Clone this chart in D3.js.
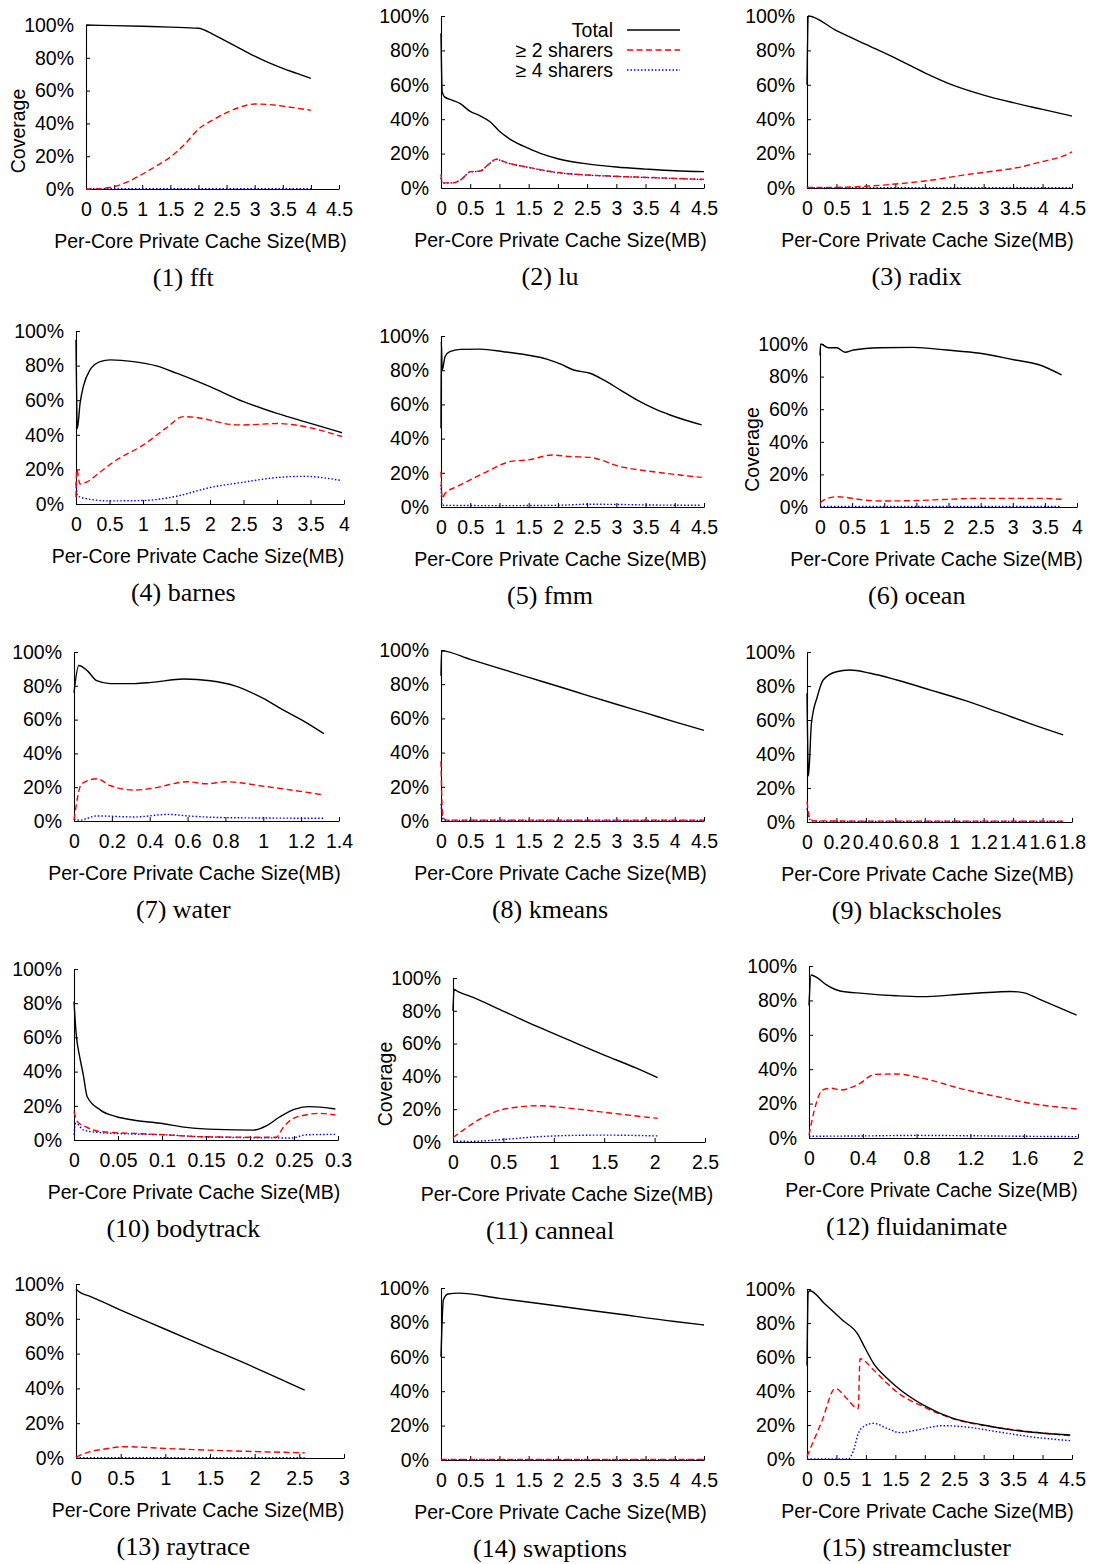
<!DOCTYPE html>
<html><head><meta charset="utf-8">
<script src="https://cdn.jsdelivr.net/npm/d3@7"></script>
<style>
body{margin:0;background:#fff}
svg text{font-family:"Liberation Sans",Arial,Helvetica,sans-serif}
</style>
</head><body>
<svg id="c" width="1100" height="1564"></svg>
<script>
// ---------------- DATA ----------------
const seriesNames = ["Total", "\u2265 2 sharers", "\u2265 4 sharers"];
const panelNames = ["fft","lu","radix","barnes","fmm","ocean","water","kmeans","blackscholes","bodytrack","canneal","fluidanimate","raytrace","swaptions","streamcluster"];
const yTicks = [0,20,40,60,80,100];
const xTicks45 = [0,0.5,1,1.5,2,2.5,3,3.5,4,4.5];
const xTicks4 = [0,0.5,1,1.5,2,2.5,3,3.5,4];
const xTicks14 = [0,0.2,0.4,0.6,0.8,1,1.2,1.4];
const xTicks18 = [0,0.2,0.4,0.6,0.8,1,1.2,1.4,1.6,1.8];
const xTicks03 = [0,0.05,0.1,0.15,0.2,0.25,0.3];
const xTicks25 = [0,0.5,1,1.5,2,2.5];
const xTicks2 = [0,0.4,0.8,1.2,1.6,2];
const xTicks3 = [0,0.5,1,1.5,2,2.5,3];

const fftTotal = [[0,100],[0.5,99.6],[1,99.2],[1.5,98.7],[2,98],[2.25,94.5],[2.5,90],[2.75,85.5],[3,81],[3.25,77],[3.5,73.5],[3.75,70.5],[4,67.5]];
const fftShare2 = [[0,0],[0.25,0.2],[0.5,1.5],[0.75,4.5],[1,9],[1.25,14],[1.5,19.5],[1.75,27],[2,36.5],[2.25,42],[2.5,46.5],[2.75,50],[3,51.8],[3.25,51.5],[3.5,50.5],[3.75,49.3],[4,48]];
const fftShare4 = [[0,0.2],[1,0.2],[2,0.2],[3,0.2],[4,0.2]];

const luTotal = [[0,90],[0.02,56],[0.06,53],[0.2,51],[0.33,49],[0.5,44.5],[0.67,42],[0.84,38.5],[1.0,33],[1.2,28],[1.5,23],[1.75,19.5],[2,17],[2.5,14],[3,12.2],[3.5,11],[4,10],[4.5,9.5]];
const luShare2 = [[0,8],[0.02,3],[0.2,3],[0.35,5],[0.5,9.5],[0.67,9.9],[0.8,13.4],[0.95,16.8],[1.1,15],[1.5,12],[2,9],[2.5,7.6],[3,6.8],[3.5,6.2],[4,5.6],[4.5,5]];
const luShare4 = [[0,6],[0.02,2.8],[0.2,3],[0.35,5],[0.5,9.3],[0.67,9.8],[0.8,13.2],[0.95,16.6],[1.1,14.9],[1.5,11.9],[2,8.9],[2.5,7.5],[3,6.7],[3.5,6.1],[4,5.5],[4.5,4.9]];

const radixTotal = [[0,60],[0.02,100],[0.5,91.5],[1,83.5],[1.5,75.5],[2,67],[2.5,59.5],[3,54],[3.5,49.6],[4,45.7],[4.5,41.8]];
const radixShare2 = [[0,0.3],[0.5,0.4],[1,1],[1.5,2.3],[2.1,4.5],[2.65,7.5],[3.2,10],[3.6,12],[3.95,15],[4.4,19.3],[4.5,21]];
const radixShare4 = [[0,1],[0.02,0.2],[1,0.2],[2,0.2],[3,0.2],[4,0.2],[4.5,0.2]];

const barnesTotal = [[0,95],[0.02,43.5],[0.06,58],[0.11,68],[0.21,77.5],[0.36,82.3],[0.51,83.3],[0.86,82.3],[1.2,79.8],[1.5,75.6],[2,67.8],[2.5,59.2],[3,52.4],[3.5,46.6],[3.97,41.2]];
const barnesShare2 = [[0,4],[0.01,20],[0.06,11.5],[0.15,12.5],[0.36,18.5],[0.61,25.6],[1,34],[1.35,44],[1.6,50.5],[1.8,50],[2,48.5],[2.3,46],[2.5,45.7],[3,46.5],[3.3,45.5],[3.5,44],[3.97,39]];
const barnesShare4 = [[0,12],[0.02,5],[0.1,3.5],[0.5,1.8],[1,2],[1.5,4.5],[2,9.5],[2.5,12.6],[3,15.3],[3.4,16],[3.97,13.5]];

const fmmTotal = [[0,46],[0.005,97],[0.02,80],[0.07,88],[0.15,90.8],[0.33,92.2],[0.67,92.3],[1.07,90.8],[1.47,88.9],[1.81,86.5],[2.05,83.5],[2.27,80.1],[2.55,78.2],[2.78,74.3],[3.07,68.4],[3.35,62.6],[3.65,57.5],[3.92,53.8],[4.46,48]];
const fmmShare2 = [[0,20.6],[0.02,5],[0.07,8],[0.27,11.9],[0.5,15.8],[0.78,20.6],[1.18,26.5],[1.52,27.7],[1.9,30.4],[2.2,29.5],[2.55,29],[3.07,23.6],[3.64,20.6],[4.46,17.3]];
const fmmShare4 = [[0,13],[0.02,1],[1,0.8],[2,1],[2.5,1.6],[3,1.5],[3.5,1.2],[4.46,1]];

const oceanTotal = [[0,93],[0.01,100],[0.13,97.7],[0.26,97.7],[0.39,94.9],[0.52,96.3],[0.93,97.7],[1.45,97.9],[1.97,96.3],[2.49,94.3],[3.0,90.5],[3.42,87.1],[3.76,81]];
const oceanShare2 = [[0,2.6],[0.08,4.7],[0.26,6.3],[0.39,6],[0.67,4.3],[0.98,3.7],[1.45,3.9],[1.97,4.7],[2.49,5.3],[3.0,5.3],[3.42,5.3],[3.76,4.7]];
const oceanShare4 = [[0,0.3],[1,0.3],[2,0.3],[3,0.3],[3.76,0.3]];

const waterTotal = [[0,76],[0.025,92],[0.07,89],[0.12,83],[0.19,81.3],[0.32,81.3],[0.41,82],[0.58,84],[0.72,83],[0.85,80],[1.0,72.5],[1.1,66],[1.2,60],[1.32,51.7]];
const waterShare2 = [[0,0.6],[0.04,22],[0.12,25],[0.19,21],[0.32,18.3],[0.41,19.3],[0.6,23.2],[0.7,22],[0.8,23.2],[1.02,20.3],[1.32,15.4]];
const waterShare4 = [[0,1],[0.03,0.5],[0.12,3],[0.32,2.4],[0.5,3.9],[0.6,3],[0.8,2],[1.32,1.6]];

const kmeansTotal = [[0,85],[0.01,99.5],[0.5,94.5],[1,89.3],[1.5,84],[2,78.8],[2.5,73.5],[3,68.3],[3.5,63.2],[4,58],[4.5,53]];
const kmeansShare2 = [[0,35],[0.03,2],[0.1,0.5],[1,0.5],[2,0.5],[3,0.5],[4,0.5],[4.5,0.5]];
const kmeansShare4 = [[0,10],[0.03,1],[0.1,0.3],[1,0.3],[2,0.3],[3,0.3],[4,0.3],[4.5,0.3]];

const bsTotal = [[0,75.7],[0.01,27],[0.03,58],[0.07,73.7],[0.11,83.5],[0.2,88.4],[0.29,89.4],[0.43,87.5],[0.61,83.5],[0.84,77.6],[1.06,71.8],[1.29,64.9],[1.51,58],[1.74,51.2]];
const bsShare2 = [[0,12],[0.02,2],[0.05,0.7],[0.5,0.5],[1,0.5],[1.5,0.5],[1.74,0.5]];
const bsShare4 = [[0,8],[0.02,1.5],[0.05,0.4],[0.5,0.3],[1,0.3],[1.5,0.3],[1.74,0.3]];

const bodyTotal = [[0,81],[0.0023,63],[0.0068,47.8],[0.0106,38],[0.015,25.3],[0.03,17.5],[0.0485,13.6],[0.067,11.7],[0.098,9.8],[0.128,7.4],[0.162,6.2],[0.204,5.8],[0.219,8.4],[0.234,13.6],[0.251,18.1],[0.268,19.5],[0.297,18.1]];
const bodyShare2 = [[0,16.6],[0.004,10.7],[0.013,7.8],[0.03,4.9],[0.067,3.9],[0.105,3],[0.14,2],[0.18,1.7],[0.23,1.6],[0.237,6.8],[0.248,12.3],[0.263,14.6],[0.278,15.6],[0.297,14.6]];
const bodyShare4 = [[0,3],[0.002,9.8],[0.011,5.8],[0.03,4.3],[0.067,3.5],[0.105,3],[0.14,2],[0.18,1.5],[0.248,1.2],[0.263,3],[0.297,3.3]];

const cannealTotal = [[0,80],[0.01,93],[0.05,91.7],[0.18,88.6],[0.51,79.5],[0.84,70.3],[1.17,61.6],[1.5,53],[1.82,45],[2.03,39.2]];
const cannealShare2 = [[0,2.7],[0.08,6.3],[0.28,14.4],[0.51,20.1],[0.84,22.1],[1.17,20.5],[1.5,18.1],[2.03,14.4]];
const cannealShare4 = [[0,0.5],[0.18,0.4],[0.51,1.6],[0.84,3.2],[1.17,4],[1.5,4.2],[2.03,3.7]];

const fluidTotal = [[0,77],[0.015,94.8],[0.06,93.2],[0.13,89],[0.23,85.5],[0.4,84.1],[0.65,82.7],[0.83,82.2],[1.15,83.7],[1.4,84.9],[1.5,85.2],[1.6,84.4],[1.72,80.5],[1.99,71.5]];
const fluidShare2 = [[0,1.7],[0.05,19.2],[0.1,27.9],[0.17,28.9],[0.23,27.9],[0.36,30.8],[0.49,37],[0.65,37.2],[0.83,35],[1.15,28.3],[1.4,24],[1.64,20.2],[1.99,16.9]];
const fluidShare4 = [[0,1],[0.4,1.2],[0.8,1.5],[1.2,1.3],[1.6,1],[1.99,0.8]];

const rayTotal = [[0,97],[0.05,95],[0.15,93],[0.5,85],[1,74],[1.5,63],[2,52],[2.56,39]];
const rayShare2 = [[0,0.5],[0.15,3.5],[0.3,5],[0.55,6.5],[1,5.5],[1.5,4.5],[2,3.7],[2.56,3]];
const rayShare4 = [[0,0.2],[1,0.2],[2,0.2],[2.56,0.2]];

const swapTotal = [[0,60],[0.04,93],[0.12,96.5],[0.3,97],[1,94],[2,89.5],[3,85],[4,80.5],[4.5,78.5]];
const swapShare2 = [[0,0.3],[1,0.3],[2,0.3],[3,0.3],[4,0.3],[4.5,0.3]];
const swapShare4 = [[0,0.2],[1,0.2],[2,0.2],[3,0.2],[4,0.2],[4.5,0.2]];

const streamTotal = [[0,55],[0.02,98],[0.05,99],[0.3,91.3],[0.6,81.8],[0.87,73],[0.96,67],[1.13,56.3],[1.36,47.5],[1.52,42.5],[1.97,31.8],[2.48,23.9],[2.99,20],[3.5,17],[4.47,14.1]];
const streamShare2 = [[0,1.5],[0.25,22],[0.48,41.5],[0.68,35.4],[0.87,29.5],[0.9,59],[1.13,52.4],[1.36,44.5],[1.52,39.6],[1.97,30.8],[2.48,23.7],[2.99,19.8],[3.5,17.3],[4.47,13.7]];
const streamShare4 = [[0,0],[0.35,0],[0.7,0],[0.79,5],[0.87,15],[0.96,19],[1.13,21],[1.36,18],[1.58,15.5],[1.86,17],[2.31,19.6],[2.65,19],[3.22,16.1],[3.79,13.1],[4.47,10.8]];

// ---------------- LAYOUT ----------------
const panels = [
  {data:[fftTotal,fftShare2,fftShare4], ticks:xTicks45, l:86, r:339, t:25, b:189, col:0, ylab:true},
  {data:[luTotal,luShare2,luShare4], ticks:xTicks45, l:441, r:704, t:16, b:188, col:1, legend:true},
  {data:[radixTotal,radixShare2,radixShare4], ticks:xTicks45, l:807, r:1072, t:16, b:188, col:2},
  {data:[barnesTotal,barnesShare2,barnesShare4], ticks:xTicks4, l:76, r:344, t:331, b:504, col:0},
  {data:[fmmTotal,fmmShare2,fmmShare4], ticks:xTicks45, l:441, r:704, t:336, b:507, col:1},
  {data:[oceanTotal,oceanShare2,oceanShare4], ticks:xTicks4, l:820, r:1077, t:344, b:507, col:2, ylab:true},
  {data:[waterTotal,waterShare2,waterShare4], ticks:xTicks14, l:74, r:339, t:652, b:821, col:0},
  {data:[kmeansTotal,kmeansShare2,kmeansShare4], ticks:xTicks45, l:441, r:704, t:650, b:821, col:1},
  {data:[bsTotal,bsShare2,bsShare4], ticks:xTicks18, l:807, r:1072, t:652, b:822, col:2},
  {data:[bodyTotal,bodyShare2,bodyShare4], ticks:xTicks03, l:74, r:338, t:969, b:1140, col:0},
  {data:[cannealTotal,cannealShare2,cannealShare4], ticks:xTicks25, l:453, r:705, t:978, b:1142, col:1, ylab:true},
  {data:[fluidTotal,fluidShare2,fluidShare4], ticks:xTicks2, l:809, r:1078, t:966, b:1138, col:2},
  {data:[rayTotal,rayShare2,rayShare4], ticks:xTicks3, l:76, r:344, t:1284, b:1458, col:0},
  {data:[swapTotal,swapShare2,swapShare4], ticks:xTicks45, l:441, r:704, t:1288, b:1460, col:1},
  {data:[streamTotal,streamShare2,streamShare4], ticks:xTicks45, l:807, r:1072, t:1289, b:1459, col:2}
];
const colCenters = [183.3, 550, 916.7];
const styles = [
  {stroke:"#000000", dash:null, w:1.4},
  {stroke:"#ff0000", dash:"6,3.5", w:1.4},
  {stroke:"#0000ff", dash:"1.5,2", w:1.4}
];
const FS = 19.5;
const fmtX = d => String(+d.toFixed(2));

const svg = d3.select("#c");

panels.forEach((p, i) => {
  const g = svg.append("g");
  const xmax = p.ticks[p.ticks.length-1];
  const x = d3.scaleLinear().domain([0, xmax]).range([p.l, p.r]);
  const y = d3.scaleLinear().domain([0, 100]).range([p.b, p.t]);

  const ax = g.append("g").attr("transform", `translate(0,${p.b})`)
    .call(d3.axisBottom(x).tickValues(p.ticks).tickFormat(fmtX).tickSizeInner(-4).tickSizeOuter(0).tickPadding(13));
  const ay = g.append("g").attr("transform", `translate(${p.l},0)`)
    .call(d3.axisLeft(y).tickValues(yTicks).tickFormat(d => d + "%").tickSizeInner(-4).tickSizeOuter(0).tickPadding(12));
  [ax, ay].forEach(a => {
    a.attr("font-size", FS).attr("font-family", null).attr("color", "#000");
    a.select(".domain").attr("stroke-width", 1.1);
  });

  const line = d3.line().x(d => x(d[0])).y(d => y(d[1])).curve(d3.curveMonotoneX);
  [2, 1, 0].forEach(k => {
    const s = styles[k];
    g.append("path").datum(p.data[k])
      .attr("fill", "none").attr("stroke", s.stroke).attr("stroke-width", s.w)
      .attr("stroke-dasharray", s.dash).attr("d", line);
  });

  g.append("text").attr("x", (p.l + p.r) / 2 - 12).attr("y", p.b + 52).attr("dy", "0.35em")
    .attr("text-anchor", "middle").attr("font-size", FS).text("Per-Core Private Cache Size(MB)");

  g.append("text").attr("x", colCenters[p.col]).attr("y", p.b + 88).attr("dy", "0.35em")
    .attr("text-anchor", "middle").attr("font-size", 26)
    .style("font-family", "'Liberation Serif','DejaVu Serif',serif")
    .text(`(${i + 1}) ${panelNames[i]}`);

  if (p.ylab) {
    const cx = p.l - 68, cy = (p.t + p.b) / 2 + 24;
    g.append("text").attr("transform", `translate(${cx},${cy}) rotate(-90)`).attr("dy", "0.35em")
      .attr("text-anchor", "middle").attr("font-size", FS).text("Coverage");
  }

  if (p.legend) {
    const ly = [30, 50, 70];
    seriesNames.forEach((n, k) => {
      g.append("text").attr("x", 613).attr("y", ly[k]).attr("dy", "0.35em")
        .attr("text-anchor", "end").attr("font-size", FS).text(n);
      g.append("line").attr("x1", 627).attr("x2", 680).attr("y1", ly[k]).attr("y2", ly[k])
        .attr("stroke", styles[k].stroke).attr("stroke-width", styles[k].w)
        .attr("stroke-dasharray", styles[k].dash);
    });
  }
});
</script>
</body></html>
